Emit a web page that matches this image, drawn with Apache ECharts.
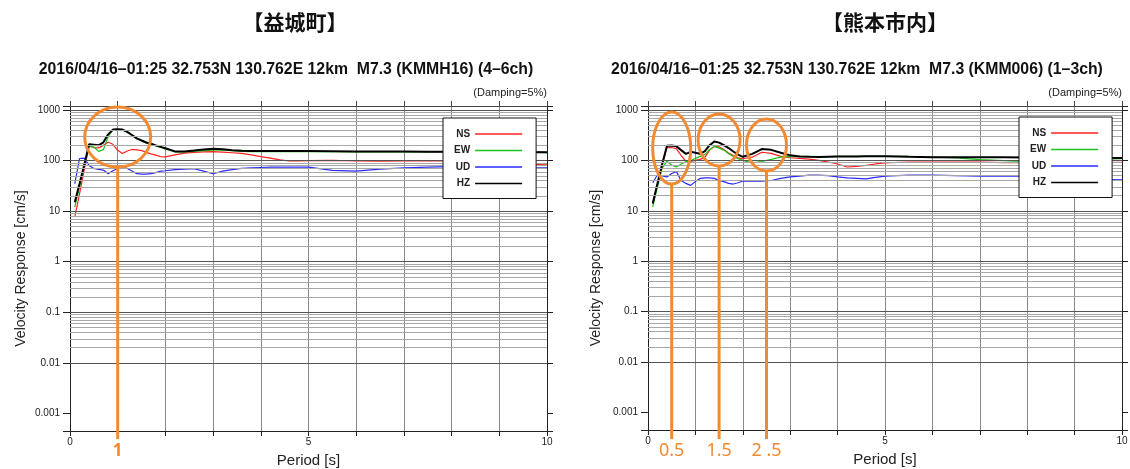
<!DOCTYPE html>
<html>
<head>
<meta charset="utf-8">
<script src="https://cdn.jsdelivr.net/npm/echarts@6/dist/echarts.min.js"></script>
<style>
html, body { margin: 0; padding: 0; background: #fff; }
#chart { width: 1130px; height: 469px; }
</style>
</head>
<body>
<div id="chart"></div>
<script>
// 周期 [s]
var periods = [0.1, 0.2, 0.3, 0.4, 0.5, 0.6, 0.7, 0.8, 0.9, 1.0,
    1.1, 1.2, 1.3, 1.4, 1.5, 1.6, 1.7, 1.8, 1.9, 2.0,
    2.2, 2.4, 2.6, 2.8, 3.0, 3.2, 3.4, 3.6, 3.8, 4.0, 4.2, 4.4, 4.6, 4.8, 5.0,
    5.5, 6.0, 6.5, 7.0, 7.5, 8.0, 8.5, 9.0, 9.5, 10.0];

// 益城町 KMMH16 (4-6ch)
var mashikiNS = [7.6, 22, 67, 195, 180, 178, 200, 230, 210, 160,
    138, 155, 166, 163, 158, 145, 136, 128, 120, 118,
    130, 140, 145, 148, 150, 147, 143, 139, 130, 120, 112, 103, 98, 99, 100,
    101, 98, 97, 98, 99, 98, 95, 90, 85, 82];
var mashikiEW = [12, 30, 78, 195, 185, 152, 165, 300, 400, 408,
    402, 362, 315, 270, 245, 222, 208, 195, 183, 170,
    148, 148, 152, 157, 160, 161, 157, 152, 150, 150, 150, 150, 150, 150, 150,
    150, 149, 149, 149, 148, 148, 147, 146, 145, 144];
var mashikiUD = [35, 110, 112, 80, 70, 67, 65, 55, 63, 70,
    74, 70, 62, 55, 54, 54, 55, 58, 62, 63,
    66, 68, 69, 62, 55, 62, 66, 70, 72, 73, 74, 74, 74, 74, 74,
    64, 62, 68, 72, 74, 76, 76, 75, 73, 72];
var mashikiHZ = [15, 35, 84, 210, 205, 200, 230, 330, 410, 415,
    410, 370, 320, 275, 250, 228, 215, 200, 187, 175,
    152, 152, 158, 165, 172, 168, 160, 156, 155, 154, 154, 154, 154, 154, 154,
    153, 152, 152, 151, 150, 150, 149, 148, 147, 146];

// 熊本市内 KMM006 (1-3ch)
var kumamotoNS = [14, 34, 82, 180, 180, 170, 125, 96, 96, 100,
    105, 115, 160, 190, 186, 165, 140, 125, 112, 108,
    116, 145, 138, 120, 113, 110, 106, 100, 93, 85, 74, 76, 80, 85, 89,
    93, 93, 93, 93, 90, 90, 90, 90, 91, 92];
var kumamotoEW = [12, 30, 70, 97, 80, 74, 85, 95, 98, 110,
    120, 132, 165, 190, 175, 160, 135, 120, 108, 100,
    89, 95, 105, 116, 119, 120, 120, 119, 119, 120, 120, 121, 121, 121, 121,
    120, 116, 112, 104, 99, 94, 96, 100, 105, 108];
var kumamotoUD = [36, 52, 49, 47, 55, 60, 40, 35, 32, 38,
    44, 45, 45, 44, 40, 38, 35, 34, 36, 39,
    39, 39, 40, 44, 47, 49, 51, 51, 50, 47, 45, 44, 43, 46, 49,
    51, 51, 50, 49, 49, 49, 48, 45, 42, 41];
var kumamotoHZ = [14, 35, 85, 195, 197, 190, 160, 135, 148, 142,
    135, 152, 200, 238, 225, 200, 176, 150, 130, 118,
    135, 168, 162, 142, 126, 120, 118, 117, 118, 119, 120, 120, 121, 121, 121,
    118, 116, 115, 116, 115, 114, 113, 113, 112, 112];

var componentNames = ['NS', 'EW', 'UD', 'HZ'];
var componentColors = ['#ff2020', '#19c419', '#2a2aff', '#000000'];
var yTickLabels = ['0.001', '0.01', '0.1', '1', '10', '100', '1000'];
var xTickLabels = ['0', '5', '10'];

var siteTitles = ['【益城町】', '【熊本市内】'];
var eventTitles = [
    '2016/04/16\u201301:25 32.753N 130.762E 12km  M7.3 (KMMH16) (4\u20136ch)',
    '2016/04/16\u201301:25 32.753N 130.762E 12km  M7.3 (KMM006) (1\u20133ch)'
];

// 注目周期（オレンジの丸）
var mashikiMarks = [1];
var mashikiMarkLabels = ['1'];
var mashikiMarkCenters = [291];
var kumamotoMarks = [0.5, 1.5, 2.5];
var kumamotoMarkLabels = ['0.5', '1.5', '2 .5'];
var kumamotoMarkCenters = [176, 254, 202];

var yMin = 0.00045, yMax = 1200;
var ORANGE = '#f28a32';

function pairs(vals) {
    return periods.map(function (p, i) { return [p, vals[i]]; });
}

// 対数グリッドの横線 (1..9 x 10^n)
function gridLines() {
    var res = [];
    for (var e = -4; e <= 3; e++) {
        for (var k = 1; k <= 9; k++) {
            var v = k * Math.pow(10, e);
            if (v < yMin || v > yMax) continue;
            res.push({
                yAxis: v,
                lineStyle: { color: k === 1 ? '#555' : '#a8a8a8', width: 1, type: 'solid' }
            });
        }
    }
    return res;
}

function yLabel(v) {
    var l = Math.log10(v);
    var e = Math.round(l);
    if (Math.abs(l - e) > 1e-6) return '';
    return yTickLabels[e + 3] || '';
}

function xLabel(v) {
    var i = xTickLabels.indexOf(String(Math.round(v)));
    return (Math.abs(v - Math.round(v)) < 1e-6 && i >= 0) ? xTickLabels[i] : '';
}

var font = 'Liberation Sans';

function bottomAxis(gridIndex) {
    return {
        type: 'value', gridIndex: gridIndex, min: 0, max: 10, interval: 1,
        name: 'Period [s]', nameLocation: 'middle', nameGap: 22,
        nameTextStyle: { fontFamily: font, fontSize: 15, color: '#222' },
        axisLine: { show: true, onZero: false, lineStyle: { color: '#222', width: 1 } },
        axisTick: { show: true, length: 5, lineStyle: { color: '#222' } },
        axisLabel: { show: true, formatter: xLabel, fontFamily: font, fontSize: 10, color: '#222', margin: 6 },
        splitLine: { show: true, lineStyle: { color: '#8a8a8a', width: 1 } }
    };
}
function topAxis(gridIndex) {
    return {
        type: 'value', gridIndex: gridIndex, position: 'top', min: 0, max: 10, interval: 1,
        axisLine: { show: true, onZero: false, lineStyle: { color: '#444', width: 1 } },
        axisTick: { show: true, length: 5, lineStyle: { color: '#444' } },
        axisLabel: { show: false },
        splitLine: { show: false }
    };
}
function leftAxis(gridIndex, gap) {
    return {
        type: 'log', logBase: 10, gridIndex: gridIndex, min: yMin, max: yMax,
        name: 'Velocity Response [cm/s]', nameLocation: 'middle', nameGap: gap,
        nameTextStyle: { fontFamily: font, fontSize: 14, color: '#222' },
        axisLine: { show: true, onZero: false, lineStyle: { color: '#222', width: 1 } },
        axisTick: { show: true, length: 7, lineStyle: { color: '#222' } },
        axisLabel: { show: true, formatter: yLabel, fontFamily: font, fontSize: 10, color: '#222', margin: 10 },
        splitLine: { show: false }
    };
}
function rightAxis(gridIndex) {
    return {
        type: 'log', logBase: 10, gridIndex: gridIndex, position: 'right', min: yMin, max: yMax,
        axisLine: { show: true, onZero: false, lineStyle: { color: '#222', width: 1 } },
        axisTick: { show: true, length: 6, lineStyle: { color: '#222' } },
        axisLabel: { show: false },
        splitLine: { show: false }
    };
}

function siteSeries(idx, list) {
    var out = [{
        name: 'grid' + idx, type: 'line', xAxisIndex: idx, yAxisIndex: idx, data: [],
        silent: true, z: 1,
        markLine: {
            silent: true, symbol: ['none', 'none'], label: { show: false },
            animation: false, data: gridLines()
        }
    }];
    list.forEach(function (vals, i) {
        out.push({
            name: componentNames[i], type: 'line', xAxisIndex: idx, yAxisIndex: idx,
            data: pairs(vals), symbol: 'none', showSymbol: false, z: 2,
            lineStyle: { color: componentColors[i], width: i === 3 ? 2 : 1.2 },
            itemStyle: { color: componentColors[i] }
        });
    });
    return out;
}

// 凡例: 文字の右に細い線
var legendIcon = 'path://M0,0 L0,0 M0,5.2 L47,5.2 L47,6.8 L0,6.8 Z M47,12 L47,12';

function legendBox(left, top) {
    return {
        data: componentNames, left: left, top: top, orient: 'vertical', align: 'right',
        icon: legendIcon, itemWidth: 47, itemHeight: 12, itemGap: 4.5, z: 10,
        padding: [10, 14, 9, 11], borderColor: '#111', borderWidth: 1, backgroundColor: '#fff',
        textStyle: { fontFamily: font, fontSize: 10, fontWeight: 'bold', color: '#222' }
    };
}

var chart = echarts.init(document.getElementById('chart'), null, { renderer: 'canvas' });

var option = {
    animation: false,
    backgroundColor: '#fff',
    grid: [
        { left: 70, width: 477, top: 106, bottom: 38, containLabel: false, outerBoundsMode: 'none' },
        { left: 648, width: 474, top: 106, bottom: 39, containLabel: false, outerBoundsMode: 'none' }
    ],
    xAxis: [bottomAxis(0), bottomAxis(1), topAxis(0), topAxis(1)],
    yAxis: [leftAxis(0, 42), leftAxis(1, 45), rightAxis(0), rightAxis(1)],
    legend: [legendBox(443, 118), legendBox(1019, 117)],
    series: siteSeries(0, [mashikiNS, mashikiEW, mashikiUD, mashikiHZ])
        .concat(siteSeries(1, [kumamotoNS, kumamotoEW, kumamotoUD, kumamotoHZ]))
};
chart.setOption(option);

// タイトル・注釈
var graphics = [];
var titleX = [295, 885], subX = [286, 857], dampX = [547, 1122];
for (var g = 0; g < 2; g++) {
    graphics.push({
        type: 'text', x: titleX[g], y: 22, silent: true,
        style: { text: siteTitles[g], font: 'bold 21px "Noto Sans CJK JP"', fill: '#111', align: 'center', verticalAlign: 'middle' }
    });
    graphics.push({
        type: 'text', x: subX[g], y: 70, silent: true,
        style: { text: eventTitles[g], font: 'bold 15.8px "Liberation Sans"', fill: '#111', align: 'center', verticalAlign: 'middle' }
    });
    graphics.push({
        type: 'text', x: dampX[g], y: 93, silent: true,
        style: { text: '(Damping=5%)', font: '11px "Liberation Sans"', fill: '#222', align: 'right', verticalAlign: 'middle' }
    });
}

function addMarks(gridIndex, marks, centers, labels, radii, labelFont) {
    marks.forEach(function (p, i) {
        var c = chart.convertToPixel({ gridIndex: gridIndex }, [p, centers[i]]);
        var rx = radii[i][0], ry = radii[i][1];
        graphics.push({
            type: 'ellipse', silent: true, z: 100,
            shape: { cx: c[0], cy: c[1], rx: rx, ry: ry },
            style: { fill: 'none', stroke: ORANGE, lineWidth: 3 }
        });
        graphics.push({
            type: 'line', silent: true, z: 100,
            shape: { x1: c[0], y1: c[1] + ry, x2: c[0], y2: 439 },
            style: { stroke: ORANGE, lineWidth: 3 }
        });
        graphics.push({
            type: 'text', x: c[0], y: 451, silent: true, z: 100,
            style: { text: labels[i], font: labelFont, fill: ORANGE, align: 'center', verticalAlign: 'middle' }
        });
    });
}
addMarks(0, mashikiMarks, mashikiMarkCenters, mashikiMarkLabels, [[33, 30]], 'bold 17px "Noto Sans"');
addMarks(1, kumamotoMarks, kumamotoMarkCenters, kumamotoMarkLabels, [[19, 36], [21, 26], [20, 26]], '18px "Noto Sans"');

chart.setOption({ graphic: graphics });
</script>
</body>
</html>
